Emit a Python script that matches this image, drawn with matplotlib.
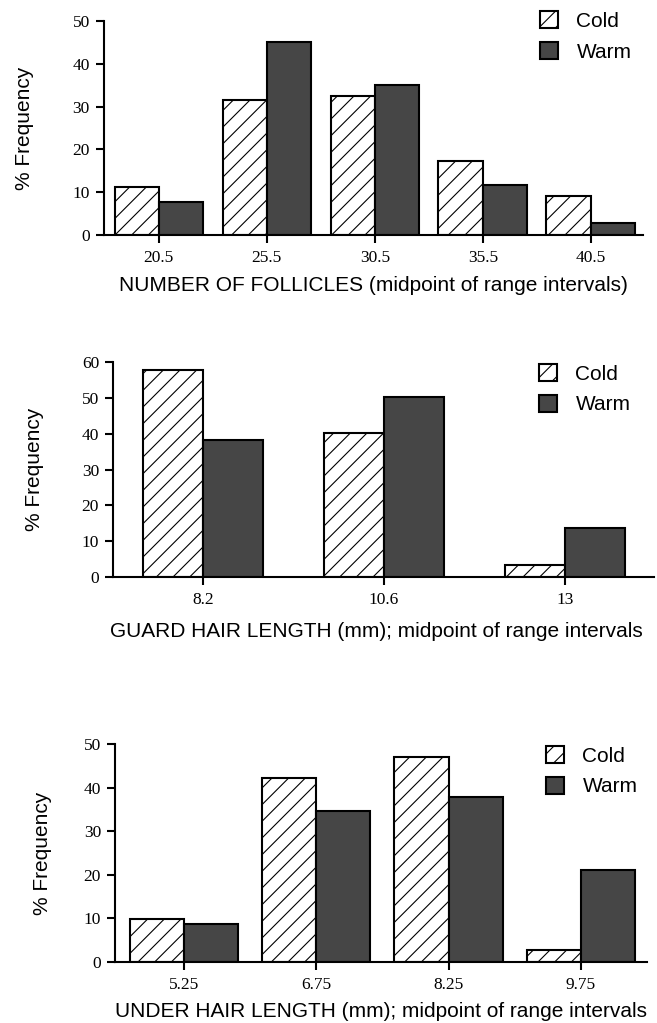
import numpy as np
import matplotlib
matplotlib.use("Agg")
import matplotlib.pyplot as plt

plt.rcParams['hatch.linewidth'] = 0.8

# data
follicle_bins = ['20.5', '25.5', '30.5', '35.5', '40.5']
follicle_cold = [11.1, 31.6, 32.5, 17.2, 9.1]
follicle_warm = [7.6, 45.1, 35.0, 11.7, 2.9]

guard_bins = ['8.2', '10.6', '13']
guard_cold = [57.7, 40.3, 3.3]
guard_warm = [38.3, 50.2, 13.8]

under_bins = ['5.25', '6.75', '8.25', '9.75']
under_cold = [9.9, 42.2, 47.0, 2.7]
under_warm = [8.7, 34.7, 37.8, 21.1]

SERIF = 'Liberation Serif'
SANS = 'Liberation Sans'
WARM_COLOR = '#464646'


def panel(fig, rect, bins, cold, warm, width, xlim, ymax, xlabel,
          xlab_pos, ylab_x, leg_anchor):
    ax = fig.add_axes(rect)
    x = np.arange(len(bins))
    ax.bar(x - width / 2, cold, width, facecolor='white', edgecolor='black',
           hatch='//', linewidth=1.5, label='Cold')
    ax.bar(x + width / 2, warm, width, facecolor=WARM_COLOR, edgecolor='black',
           linewidth=1.5, label='Warm')

    ax.set_xlim(*xlim)
    ax.set_ylim(0, ymax)
    ax.set_yticks(np.arange(0, ymax + 1, 10))
    ax.set_xticks(x)
    ax.set_xticklabels(bins)
    for sp in ['top', 'right']:
        ax.spines[sp].set_visible(False)
    for sp in ['left', 'bottom']:
        ax.spines[sp].set_linewidth(1.5)
    ax.tick_params(direction='out', length=6, width=1.5, pad=4)
    ax.tick_params(axis='x', pad=5)
    for lab in ax.get_xticklabels() + ax.get_yticklabels():
        lab.set_fontfamily(SERIF)
        lab.set_fontsize(12.5)

    ax.set_xlabel(xlabel, fontfamily=SANS, fontsize=15)
    ax.xaxis.set_label_coords(*xlab_pos)
    ax.xaxis.label.set_verticalalignment('center')
    ax.set_ylabel('% Frequency', fontfamily=SANS, fontsize=15)
    ax.yaxis.set_label_coords(ylab_x, 0.5)
    ax.yaxis.label.set_verticalalignment('center')

    ax.legend(loc='upper left', bbox_to_anchor=leg_anchor,
              bbox_transform=fig.transFigure, frameon=False,
              prop={'family': SANS, 'size': 15}, handlelength=0.85,
              handleheight=0.85, handletextpad=0.9, labelspacing=0.55,
              borderpad=0, borderaxespad=0)
    return ax


fig = plt.figure(figsize=(6.57, 10.23), dpi=100)

panel(fig, [0.158, 0.7703, 0.820, 0.2092], follicle_bins, follicle_cold,
      follicle_warm, 0.41, (-0.51, 4.48), 50,
      'NUMBER OF FOLLICLES (midpoint of range intervals)',
      (0.50, -0.234), -0.147, (540 / 657, 1 - 11 / 1023))

panel(fig, [0.172, 0.436, 0.823, 0.210], guard_bins, guard_cold,
      guard_warm, 0.33, (-0.497, 2.49), 60,
      'GUARD HAIR LENGTH (mm); midpoint of range intervals',
      (0.488, -0.256), -0.146, (539 / 657, 1 - 364 / 1023))

panel(fig, [0.175, 0.0596, 0.810, 0.2131], under_bins, under_cold,
      under_warm, 0.41, (-0.52, 3.5), 50,
      'UNDER HAIR LENGTH (mm); midpoint of range intervals',
      (0.50, -0.229), -0.137, (546 / 657, 1 - 746 / 1023))

fig.savefig('out.png', dpi=100)
